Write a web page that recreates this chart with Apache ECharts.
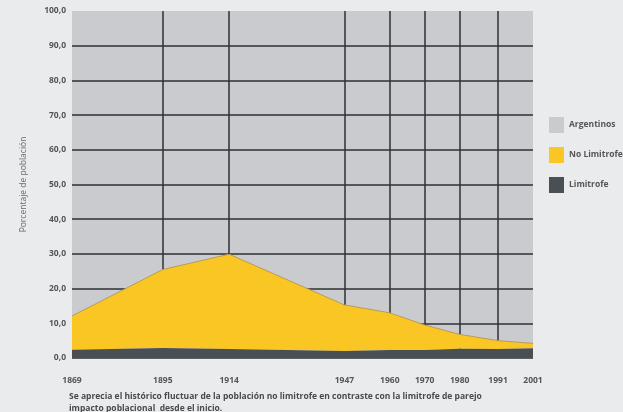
<!DOCTYPE html>
<html>
<head>
<meta charset="utf-8">
<script src="https://cdn.jsdelivr.net/npm/echarts@6/dist/echarts.min.js"></script>
<style>
  html, body { margin: 0; padding: 0; background: #e9ebed; }
  #chart { width: 623px; height: 412px; }
</style>
</head>
<body>
<div id="chart"></div>
<script>
// años de censo
const years = [1869, 1895, 1914, 1947, 1960, 1970, 1980, 1991, 2001];
// porcentajes
const limitrofe = [2.4, 2.9, 2.6, 2.0, 2.3, 2.3, 2.7, 2.6, 2.8];
const noLimitrofe = [9.7, 22.6, 27.3, 13.3, 10.7, 7.2, 4.1, 2.4, 1.4];
const argentinos = [87.9, 74.5, 70.1, 84.7, 87.0, 90.5, 93.2, 95.0, 95.8];

// valor primero para que el apilado se haga sobre el eje y
const pairs = arr => years.map((y, i) => [arr[i], y]);
const labelFont = { color: '#555', fontSize: 8.5, fontWeight: 'bold', fontFamily: 'Open Sans' };

const chart = echarts.init(document.getElementById('chart'));
chart.setOption({
  backgroundColor: '#e9ebed',
  animation: false,
  title: {
    text: 'Se aprecia el histórico fluctuar de la población no limitrofe en contraste con la limitrofe de parejo\nimpacto poblacional  desde el inicio.',
    left: 64,
    top: 386,
    textStyle: { color: '#4a4a4a', fontSize: 8.5, fontWeight: 'bold', fontFamily: 'Open Sans', lineHeight: 11.5 }
  },
  legend: {
    orient: 'vertical',
    left: 544,
    top: 112,
    itemWidth: 15,
    itemHeight: 16,
    itemGap: 14,
    icon: 'rect',
    data: ['Argentinos', 'No Limitrofe', 'Limitrofe'],
    textStyle: labelFont
  },
  grid: { left: 72, right: 90, top: 11, bottom: 54 },
  xAxis: {
    type: 'value',
    min: 1869,
    max: 2001,
    axisLine: { show: false },
    axisTick: { show: false },
    splitLine: { show: false },
    axisLabel: { customValues: years, margin: 18, formatter: v => String(v), ...labelFont }
  },
  yAxis: {
    type: 'value',
    min: 0,
    max: 100,
    interval: 10,
    z: 1,
    name: 'Porcentaje de población',
    nameLocation: 'middle',
    nameGap: 44,
    nameTextStyle: { color: '#6a6a6a', fontSize: 8.5, fontFamily: 'Open Sans' },
    axisLine: { show: false },
    axisTick: { show: false },
    axisLabel: {
      margin: 6,
      formatter: v => v.toFixed(1).replace('.', ','),
      ...labelFont
    },
    splitLine: { show: true, showMaxLine: false, lineStyle: { color: '#2e3235', width: 1.5 } }
  },
  series: [
    {
      name: 'Limitrofe',
      type: 'line',
      stack: 'total',
      symbol: 'none',
      z: 3,
      encode: { x: 1, y: 0 },
      lineStyle: { width: 0 },
      itemStyle: { color: '#4a4f53' },
      areaStyle: { color: '#4a4f53', opacity: 1 },
      data: pairs(limitrofe)
    },
    {
      name: 'No Limitrofe',
      type: 'line',
      stack: 'total',
      symbol: 'none',
      z: 2,
      encode: { x: 1, y: 0 },
      lineStyle: { width: 1, color: '#b99a55' },
      itemStyle: { color: '#f9c624' },
      areaStyle: { color: '#f9c624', opacity: 1 },
      data: pairs(noLimitrofe)
    },
    {
      name: 'Argentinos',
      type: 'line',
      stack: 'total',
      symbol: 'none',
      z: 0,
      encode: { x: 1, y: 0 },
      lineStyle: { width: 0 },
      itemStyle: { color: '#c9cbce' },
      areaStyle: { color: '#c9cbce', opacity: 1 },
      data: pairs(argentinos),
      markLine: {
        z: 1,
        silent: true,
        symbol: 'none',
        label: { show: false },
        lineStyle: { color: '#2e3235', width: 1.5, type: 'solid' },
        data: years.slice(1, -1).map(y => ({ xAxis: y }))
      }
    }
  ]
});
</script>
</body>
</html>
